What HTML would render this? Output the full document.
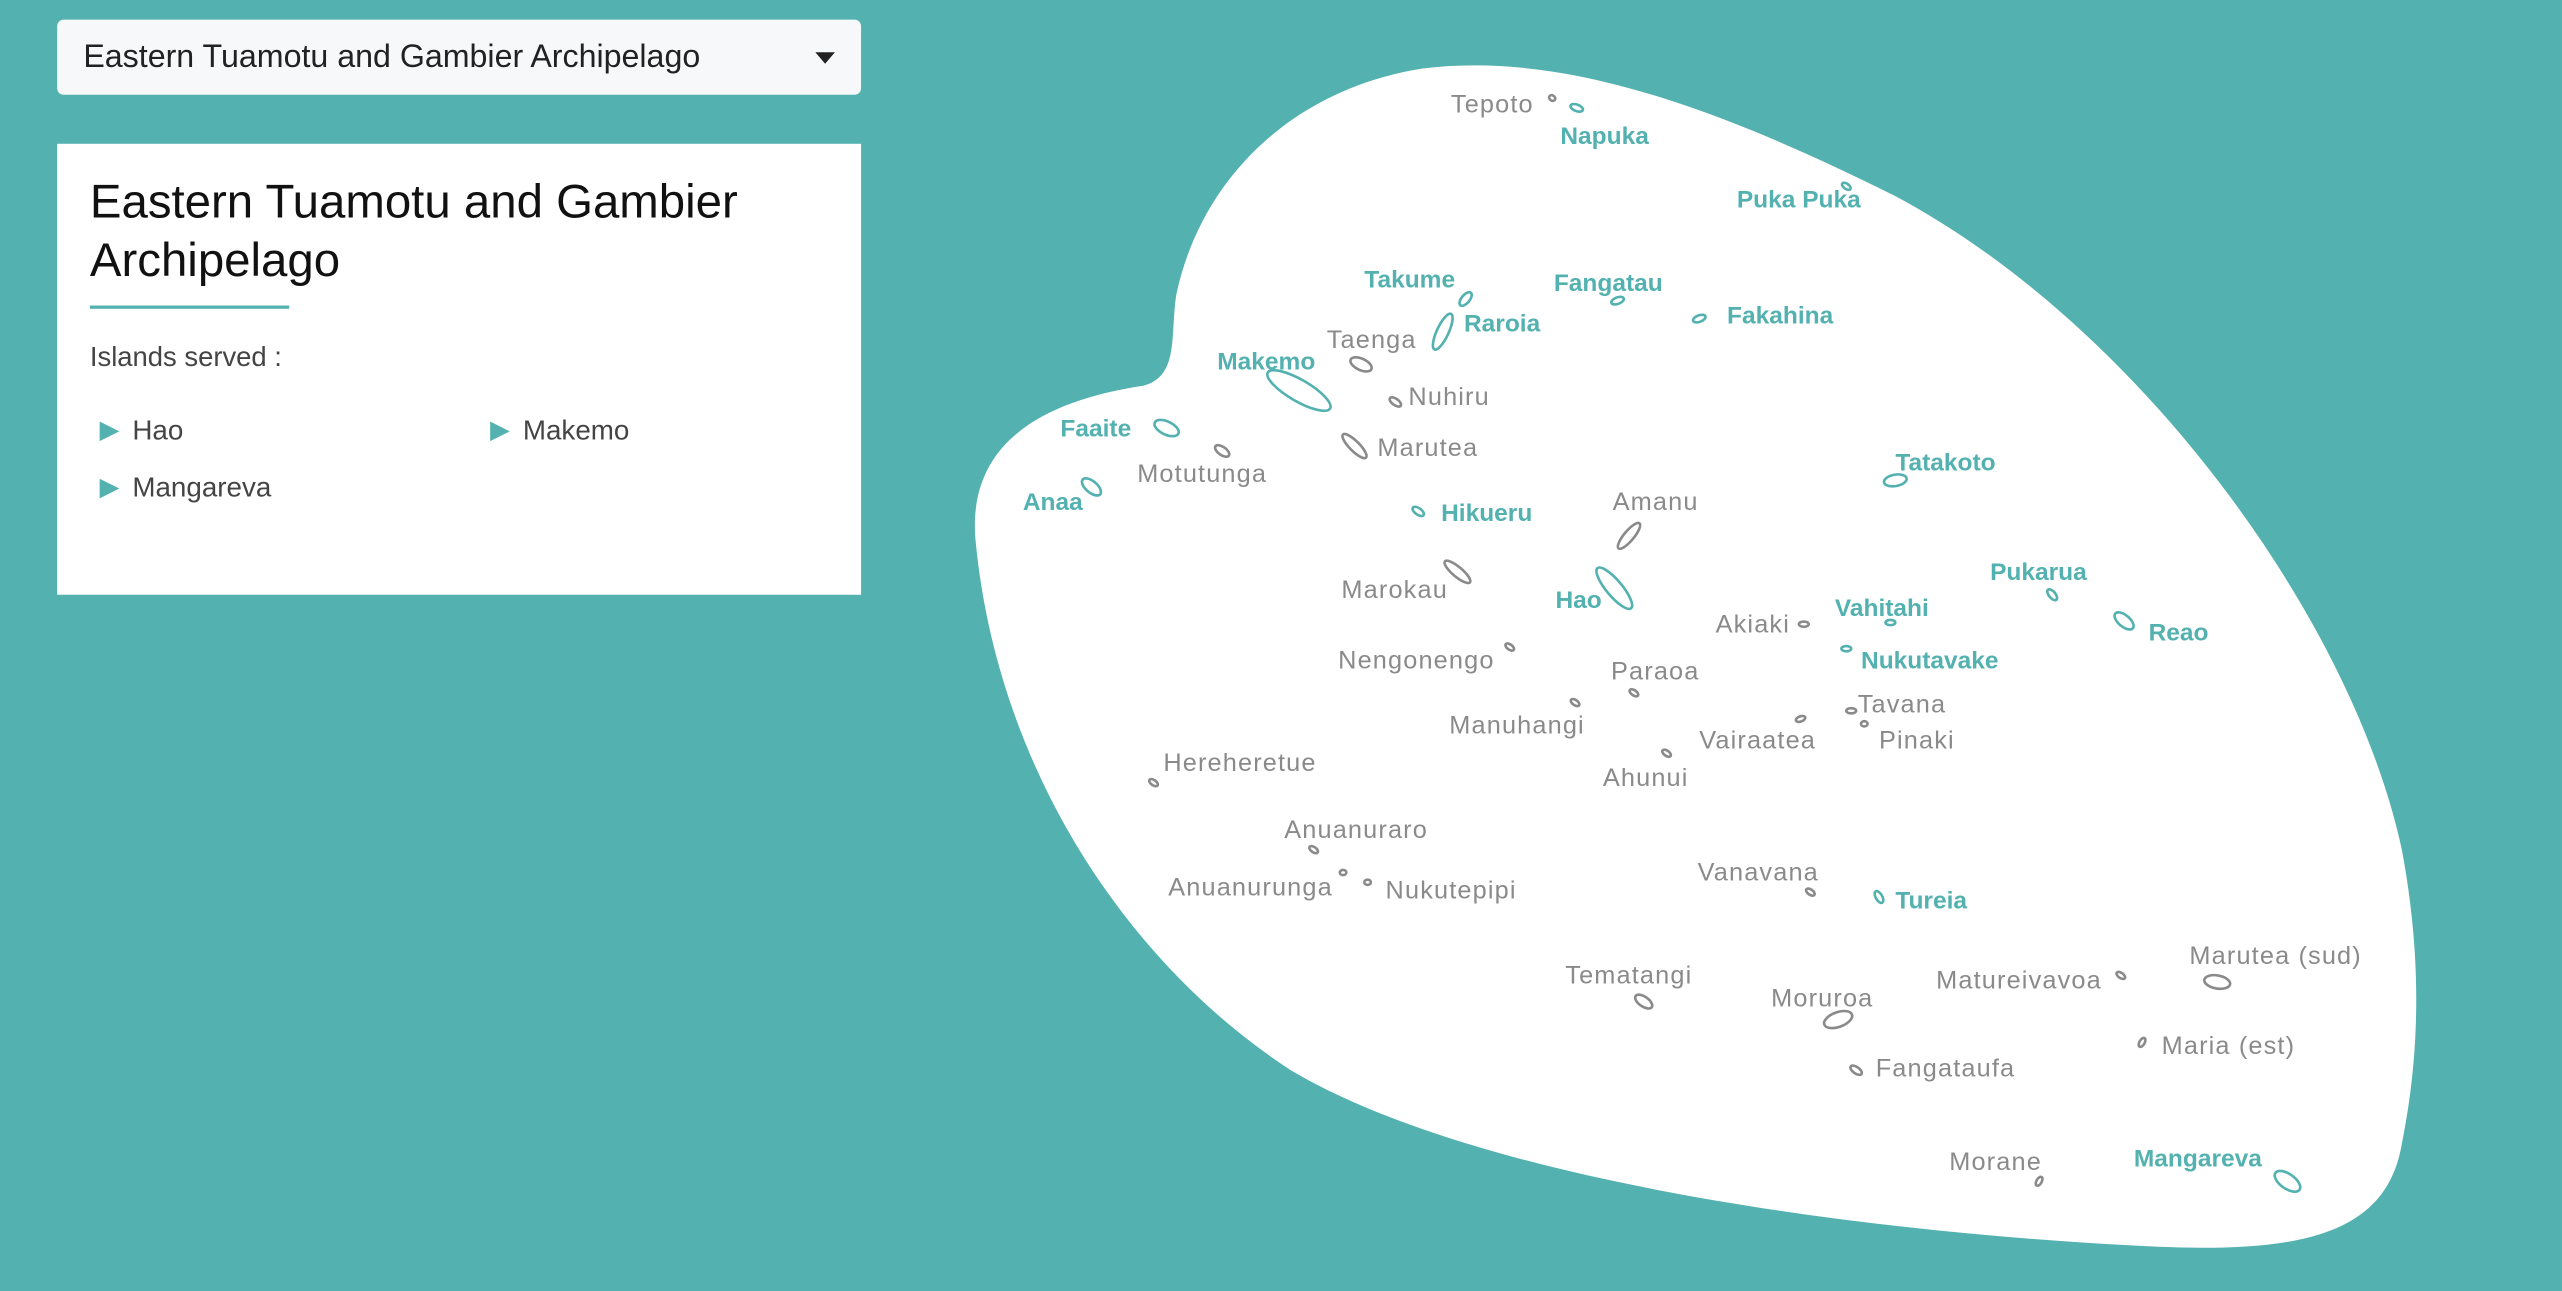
<!DOCTYPE html>
<html><head><meta charset="utf-8">
<style>
html,body{margin:0;padding:0;}
body{width:2562px;height:1290px;overflow:hidden;background:#53b1b0;font-family:"Liberation Sans","DejaVu Sans",sans-serif;}
#wrap{position:absolute;left:0;top:0;width:1568px;height:790px;transform:scale(1.6339);transform-origin:0 0;}
.dd{position:absolute;left:35px;top:12px;width:492px;height:46px;background:#f7f8fa;border-radius:4px;box-sizing:border-box;padding-left:16px;line-height:46px;font-size:19.7px;color:#222;}
.dd .car{position:absolute;right:16px;top:20px;width:0;height:0;border-left:6px solid transparent;border-right:6px solid transparent;border-top:7px solid #222;}
.panel{position:absolute;left:35px;top:88px;width:492px;height:276px;background:#fff;}
.panel h1{position:absolute;left:20px;top:18px;margin:0;font-weight:300;font-size:29px;line-height:36px;color:#111;width:460px;}
.panel .rule{position:absolute;left:20px;top:99px;width:122px;height:2px;background:#53b1b0;}
.panel .sv{position:absolute;left:20px;top:121px;font-size:16.8px;color:#444;}
.it{position:absolute;font-size:17px;color:#444;padding-left:20px;}
.it:before{content:"";position:absolute;left:0;top:4px;border-top:6px solid transparent;border-bottom:6px solid transparent;border-left:12px solid #53b1b0;}
svg{position:absolute;left:0;top:0;}
</style></head><body>
<div id="wrap">
<div class="dd">Eastern Tuamotu and Gambier Archipelago<span class="car"></span></div>
<div class="panel">
<h1>Eastern Tuamotu and Gambier Archipelago</h1>
<div class="rule"></div>
<div class="sv">Islands served :</div>
<div class="it" style="left:26px;top:166px">Hao</div>
<div class="it" style="left:265px;top:166px">Makemo</div>
<div class="it" style="left:26px;top:201px">Mangareva</div>
</div>
<svg id="map" width="1568" height="790">
<path fill="#fff" d="M870,42 C950,32 1040,60 1160,120 C1310,200 1440,380 1470,520 C1485,600 1478,660 1470,700 C1460,760 1400,768 1300,762 C1120,752 900,720 790,655 C690,590 610,470 597,330 C592,270 640,245 700,236 C722,230 716,205 720,180 C735,110 790,55 870,42 Z"/>
<g id="isl"></g><g id="lbl"></g>
</svg>
</div>
<script>
const names=["Tepoto","Napuka","Puka Puka","Takume","Fangatau","Fakahina","Raroia","Taenga","Makemo","Nuhiru","Faaite","Marutea","Motutunga","Anaa","Tatakoto","Hikueru","Amanu","Pukarua","Marokau","Hao","Akiaki","Vahitahi","Reao","Nukutavake","Nengonengo","Paraoa","Tavana","Manuhangi","Pinaki","Vairaatea","Hereheretue","Ahunui","Anuanuraro","Anuanurunga","Nukutepipi","Vanavana","Tureia","Marutea (sud)","Tematangi","Matureivavoa","Moruroa","Maria (est)","Fangataufa","Morane","Mangareva"];
const served=[0,1,1,1,1,1,1,0,1,0,1,0,0,1,1,1,0,1,0,1,0,1,1,1,0,0,0,0,0,0,0,0,0,0,0,0,1,0,0,0,0,0,0,0,1];
const islX=[950,965,1130,897,990,1040,883,833,795,854,714,829,748,668,1160,868,997,1256,892,988,1104,1157,1300,1130,924,1000,1133,964,1141,1102,706,1020,804,822,837,1108,1150,1357,1006,1298,1125,1311,1136,1248,1400];
const islY=[60,66,114,183,184,195,203,223,239,246,262,273,276,298,294,313,328,364,350,360,382,381,380,397,396,424,435,430,443,440,479,461,520,534,540,546,549,601,613,597,624,638,655,723,723];
const islR=[2,4,3,5,4,4,12,7,22,4,8,10,5,7,7,4,10,4,10,16,3,3,7,3,3,3,3,3,2,3,3,3,3,2,2,3,4,8,6,3,9,3,4,3,9];
const islAngle=[35,20,35,-50,-20,-20,-65,25,30,35,25,45,35,40,-10,35,-50,50,40,50,0,0,40,0,35,35,0,35,0,-20,35,35,35,0,0,35,60,10,35,35,-20,-60,35,-60,35];
const lblX=[888,955,1063,835,951,1057,896,812,745,862,649,843,696,626,1160,882,987,1218,821,952,1050,1123,1315,1139,819,986,1137,887,1150,1040,712,981,786,715,848,1039,1160,1340,958,1185,1084,1323,1148,1193,1306];
const lblY=[69,88,127,176,178,198,203,213,226,248,267,279,295,312,288,319,312,355,366,372,387,377,392,409,409,416,436,449,458,458,472,481,513,548,550,539,556,590,602,605,616,645,659,716,714];
const isl=document.getElementById('isl'),lbl=document.getElementById('lbl');
const NS='http://www.w3.org/2000/svg';
for(let i=0;i<names.length;i++){
  const c=served[i]?'#53b1b0':'#8a8a8a';
  const e=document.createElementNS(NS,'ellipse');
  
  
  const r=islR[i];
  e.setAttribute('cx',islX[i]);e.setAttribute('cy',islY[i]);
  e.setAttribute('rx',r);e.setAttribute('ry',Math.max(1.6,r>9?r*0.3:r*0.5));
  e.setAttribute('transform','rotate('+islAngle[i]+' '+islX[i]+' '+islY[i]+')');
  e.setAttribute('fill','none');e.setAttribute('stroke',c);e.setAttribute('stroke-width',1.6);
  isl.appendChild(e);
  const t=document.createElementNS(NS,'text');
  
  
  t.setAttribute('x',lblX[i]);t.setAttribute('y',lblY[i]);
  t.setAttribute('font-family','"Liberation Sans",sans-serif');
  if(served[i]){t.setAttribute('font-weight','bold');t.setAttribute('font-size','15');t.setAttribute('fill','#53b1b0');}
  else{t.setAttribute('font-size','15.5');t.setAttribute('letter-spacing','0.7');t.setAttribute('fill','#8a8a8a');}
  t.textContent=names[i];
  lbl.appendChild(t);
}
</script>
</body></html>
